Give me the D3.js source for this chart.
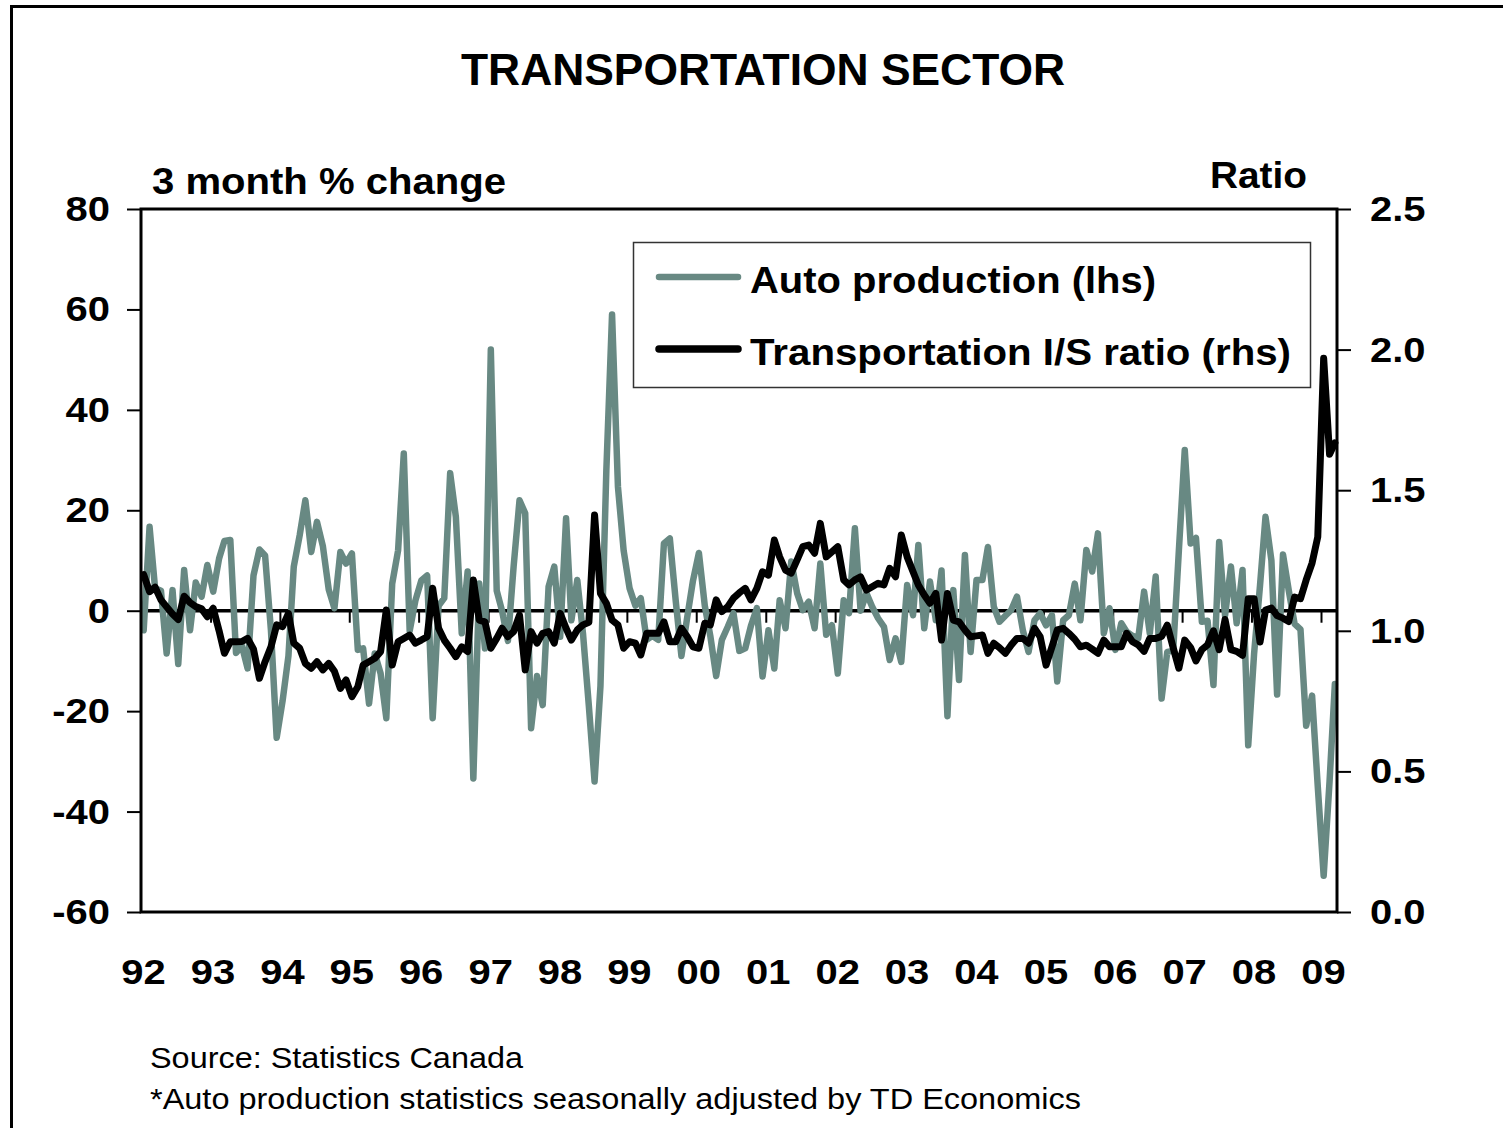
<!DOCTYPE html>
<html>
<head>
<meta charset="UTF-8">
<title>Transportation Sector</title>
<style>
  body { margin: 0; background: #fff; }
  svg { display: block; }
  text { font-family: "Liberation Sans", Arial, sans-serif; fill: #000; }
</style>
</head>
<body>
<svg id="chart" width="1503" height="1128"></svg>
<script src="https://cdn.jsdelivr.net/npm/d3@7"></script>
<script>
// ---- data (monthly, Jan 1992 - Mar 2009) ----
const firstYear = 1992;
const yearLabels = ["92", "93", "94", "95", "96", "97", "98", "99", "00",
                    "01", "02", "03", "04", "05", "06", "07", "08", "09"];
const leftTicks = [-60, -40, -20, 0, 20, 40, 60, 80];
const rightTicks = [0, 0.5, 1.0, 1.5, 2.0, 2.5];

// auto production, 3 month % change (lhs)
const autoProduction = [
  -3.9, 16.7, 4.5, 4, -8.5, 4.1, -10.6, 8.1, -3.9, 5.6, 2.8, 9.1,
  3.8, 10.4, 13.9, 14.1, -8.4, -7, -11.5, 7, 12.2, 11, -4, -25.3,
  -18, -9, 8.8, 15, 22, 11.7, 17.7, 12.9, 4.2, 0.5, 11.7, 9.4,
  11.4, -7.8, -7.5, -18.5, -8.5, -12.5, -21.4, 5.4, 12, 31.3, -4, 2,
  6, 7, -21.4, 1, 2.5, 27.4, 18.7, -4.5, 7.8, -33.4, 5.4, -7.5,
  52, 4, 0, -6, 8.8, 22, 19.4, -23.4, -13, -18.8, 4.8, 8.8,
  -5.2, 18.4, -1.9, 6.1, -4.5, -19, -34, -15, 28, 59, 24.7, 12,
  4.5, 1, 2.5, -5.8, -5, -5.8, 13.4, 14.4, 2, -9, -1.2, 6,
  11.5, 1, -5, -13, -5.8, -3.2, -0.5, -8, -7.5, -3, 0.5, -13.1,
  -3.9, -11.5, 2.1, -3.5, 9.8, 3.5, 0.1, 1.8, -3.5, 9.4, -4.8, -2.9,
  -12.5, 2.1, -0.5, 16.4, 0, 3.5, 0.8, -1.5, -3.2, -9.8, -5.5, -10.2,
  5.1, -0.9, 13.1, -3.5, 5.8, -1.9, 8, -21, 4.1, -13.8, 11.1, -8.2,
  6.1, 6.1, 12.7, 0.8, -2.2, -1, 0.1, 2.8, -3.9, -8.2, -1.9, -0.5,
  -2.9, -0.9, -14.1, -1.9, -0.9, 5.4, -1.9, 12.1, 7.8, 15.4, -4.5, 0.5,
  -7.8, -2.5, -4.2, -5, -5.5, 3.8, -4.5, 6.8, -17.5, -8.2, -8, 12,
  32, 13.4, 14.5, -2.2, -2, -14.8, 13.7, -1, 8.8, -2.5, 8.1, -26.8,
  -8.5, 5, 18.7, 10, -16.7, 11.2, 4.1, -2.6, -3.7, -22.9, -16.9, -35,
  -52.8, -34, -14.6
];

// transportation inventory / shipments ratio (rhs)
const isRatio = [
  1.200, 1.139, 1.155, 1.110, 1.085, 1.060, 1.040, 1.123, 1.100, 1.086, 1.078, 1.050,
  1.080, 1.000, 0.920, 0.961, 0.961, 0.962, 0.973, 0.935, 0.831, 0.890, 0.943, 1.021,
  1.015, 1.062, 0.956, 0.938, 0.884, 0.867, 0.890, 0.861, 0.884, 0.856, 0.795, 0.825,
  0.766, 0.801, 0.878, 0.890, 0.902, 0.926, 1.074, 0.878, 0.961, 0.973, 0.985, 0.956,
  0.967, 0.979, 1.151, 1.009, 0.967, 0.938, 0.908, 0.943, 0.926, 1.181, 1.038, 1.032,
  0.938, 0.973, 1.009, 0.979, 0.997, 1.056, 0.861, 0.997, 0.956, 0.991, 0.997, 0.956,
  1.062, 1.009, 0.967, 1.003, 1.021, 1.030, 1.412, 1.133, 1.098, 1.038, 1.021, 0.938,
  0.961, 0.956, 0.914, 0.991, 0.991, 0.991, 1.032, 0.961, 0.961, 1.009, 0.979, 0.943,
  0.938, 1.027, 1.021, 1.110, 1.068, 1.086, 1.116, 1.135, 1.151, 1.110, 1.151, 1.210,
  1.198, 1.323, 1.263, 1.216, 1.205, 1.252, 1.299, 1.305, 1.276, 1.382, 1.263, 1.281,
  1.299, 1.181, 1.163, 1.181, 1.192, 1.145, 1.157, 1.169, 1.163, 1.222, 1.192, 1.341,
  1.263, 1.210, 1.163, 1.127, 1.098, 1.133, 0.967, 1.133, 1.038, 1.032, 1.003, 0.979,
  0.982, 0.985, 0.920, 0.956, 0.940, 0.920, 0.949, 0.973, 0.973, 0.956, 1.009, 0.979,
  0.878, 0.943, 1.003, 1.009, 0.991, 0.970, 0.943, 0.949, 0.935, 0.920, 0.967, 0.943,
  0.943, 0.943, 0.991, 0.961, 0.950, 0.927, 0.973, 0.973, 0.980, 1.020, 0.940, 0.867,
  0.967, 0.940, 0.893, 0.933, 0.950, 1.000, 0.933, 1.040, 0.933, 0.927, 0.913, 1.114,
  1.114, 0.960, 1.074, 1.081, 1.054, 1.045, 1.033, 1.120, 1.114, 1.181, 1.241, 1.334,
  1.969, 1.628, 1.668
];

const GREEN = "#688983";
const SX = 1.11; // the text in the original is drawn a bit wide
const LABEL_SIZE = 36;

const svg = d3.select("#chart");

// outer frame (only left and top edges show)
svg.append("rect")
  .attr("x", 11.5).attr("y", 6.5)
  .attr("width", 1600).attr("height", 1200)
  .attr("fill", "white").attr("stroke", "black").attr("stroke-width", 3);

// plot box
const plotL = 141, plotR = 1337, plotT = 209, plotB = 912;

const x = d3.scaleTime()
  .domain([new Date(firstYear, 0, 1), new Date(firstYear + yearLabels.length - 1, 0, 1)])
  .range([plotL, 1321]);
const yL = d3.scaleLinear().domain([-60, 80]).range([plotB, plotT]);
const yR = d3.scaleLinear().domain([0, 2.5]).range([plotB, plotT]);

const months = autoProduction.map((v, i) => new Date(firstYear, i, 15));
const yearDates = yearLabels.map((d, i) => new Date(firstYear + i, 0, 1));

// helper for plain text
function addText(str, tx, ty, size, weight, len, anchor) {
  const t = svg.append("text")
    .attr("x", tx).attr("y", ty)
    .attr("font-size", size)
    .attr("font-weight", weight)
    .attr("text-anchor", anchor || "start")
    .text(str);
  if (len) t.attr("textLength", len).attr("lengthAdjust", "spacingAndGlyphs");
  return t;
}

// title + axis titles
addText("TRANSPORTATION SECTOR", 461, 85, 44, "bold", 604);
addText("3 month % change", 152, 194, LABEL_SIZE, "bold", 354);
addText("Ratio", 1210, 188, LABEL_SIZE, "bold", 97);

// left axis
const gL = svg.append("g").attr("transform", `translate(${plotL},0)`)
  .call(d3.axisLeft(yL).tickValues(leftTicks).tickSize(14).tickPadding(17)
    .tickFormat(d => String(d)));
// right axis
const gR = svg.append("g").attr("transform", `translate(${plotR},0)`)
  .call(d3.axisRight(yR).tickValues(rightTicks).tickSize(14).tickPadding(19)
    .tickFormat(d => d.toFixed(1)));
// year labels under the plot
const gB = svg.append("g").attr("transform", `translate(2,${plotB})`)
  .call(d3.axisBottom(x).tickValues(yearDates).tickSize(0).tickPadding(46)
    .tickFormat((d, i) => yearLabels[i]));

[gL, gR, gB].forEach(g => {
  g.select(".domain").remove();
  g.selectAll(".tick line").attr("stroke", "black").attr("stroke-width", 2);
  g.selectAll("text")
    .attr("font-family", "Liberation Sans, Arial, sans-serif")
    .attr("font-size", LABEL_SIZE).attr("font-weight", "bold").attr("fill", "black")
    .attr("x", function () { return +d3.select(this).attr("x") / SX; })
    .attr("transform", `scale(${SX},1)`);
});

// zero line with year ticks hanging from it
svg.append("g").attr("transform", `translate(0,${yL(0)})`)
  .call(d3.axisBottom(x).tickValues(yearDates.slice(1)).tickSize(12).tickFormat(""))
  .call(g => g.select(".domain").remove())
  .call(g => g.selectAll(".tick line").attr("stroke", "black").attr("stroke-width", 2));
svg.append("line")
  .attr("x1", plotL).attr("x2", plotR)
  .attr("y1", yL(0)).attr("y2", yL(0))
  .attr("stroke", "black").attr("stroke-width", 3.5);

// series
const lineL = d3.line().x((d, i) => x(months[i])).y(d => yL(d));
const lineR = d3.line().x((d, i) => x(months[i])).y(d => yR(d));

svg.append("path").datum(autoProduction)
  .attr("d", lineL).attr("fill", "none")
  .attr("stroke", GREEN).attr("stroke-width", 6.5)
  .attr("stroke-linejoin", "round").attr("stroke-linecap", "round");

svg.append("path").datum(isRatio)
  .attr("d", lineR).attr("fill", "none")
  .attr("stroke", "black").attr("stroke-width", 7)
  .attr("stroke-linejoin", "round").attr("stroke-linecap", "round");

// plot frame
svg.append("rect")
  .attr("x", plotL).attr("y", plotT)
  .attr("width", plotR - plotL).attr("height", plotB - plotT)
  .attr("fill", "none").attr("stroke", "black").attr("stroke-width", 3);

// legend
svg.append("rect")
  .attr("x", 633.5).attr("y", 242.5).attr("width", 677).attr("height", 145)
  .attr("fill", "white").attr("stroke", "#333").attr("stroke-width", 1.5);
svg.append("line").attr("x1", 659).attr("x2", 738).attr("y1", 277).attr("y2", 277)
  .attr("stroke", GREEN).attr("stroke-width", 6.5).attr("stroke-linecap", "round");
svg.append("line").attr("x1", 659).attr("x2", 738).attr("y1", 349).attr("y2", 349)
  .attr("stroke", "black").attr("stroke-width", 7.5).attr("stroke-linecap", "round");
addText("Auto production (lhs)", 750, 293, LABEL_SIZE, "bold", 406);
addText("Transportation I/S ratio (rhs)", 750, 365, LABEL_SIZE, "bold", 541);

// source notes
addText("Source: Statistics Canada", 150, 1068, 29, "normal", 373);
addText("*Auto production statistics seasonally adjusted by TD Economics", 150, 1109, 29, "normal", 931);
</script>
</body>
</html>
